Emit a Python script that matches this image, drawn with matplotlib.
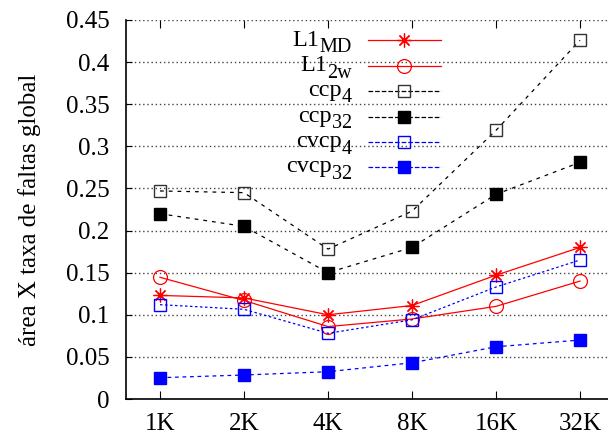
import matplotlib
matplotlib.use("Agg")
import matplotlib.pyplot as plt
from matplotlib.lines import Line2D

plt.rcParams['font.family'] = ['Liberation Serif', 'DejaVu Serif']

sizes = ['1K', '2K', '4K', '8K', '16K', '32K']
l1_md = [0.123, 0.120, 0.100, 0.111, 0.147, 0.180]
l1_2w = [0.1445, 0.117, 0.086, 0.095, 0.110, 0.140]
ccp4 = [0.247, 0.245, 0.178, 0.223, 0.319, 0.426]
ccp32 = [0.220, 0.205, 0.150, 0.180, 0.243, 0.281]
cvcp4 = [0.112, 0.1065, 0.078, 0.094, 0.133, 0.165]
cvcp32 = [0.0253, 0.0285, 0.0324, 0.043, 0.062, 0.070]
names = ['L1', 'L1', 'ccp', 'ccp', 'cvcp', 'cvcp']
subs = ['MD', '2w', '4', '32', '4', '32']
yticks = [0, 0.05, 0.1, 0.15, 0.2, 0.25, 0.3, 0.35, 0.4, 0.45]
ytick_labels = ['0', '0.05', '0.1', '0.15', '0.2', '0.25', '0.3', '0.35', '0.4', '0.45']

W, H = 608, 437
fig = plt.figure(figsize=(W / 100, H / 100), dpi=100)
ax = fig.add_axes([126 / W, 1 - 399 / H, 1 - 126 / W, (399 - 20) / H])

x = list(range(len(sizes)))
lw = 0.9
ax.plot(x, l1_md, color='red', lw=lw, marker=(8, 2, 0), ms=10, mew=0.9)
ax.plot(x, l1_2w, color='red', lw=lw, marker='o', ms=10, mfc='none', mew=0.9)
ax.plot(x, ccp4, color='black', lw=lw, ls=(0, (3, 4)), marker='s', ms=9,
        mfc='none', mec='#333333', mew=1.0)
ax.plot(x, ccp32, color='black', lw=lw, ls=(0, (3, 4)), marker='s', ms=9)
ax.plot(x, cvcp4, color='blue', lw=lw, ls=(0, (2, 2)), marker='s', ms=9,
        mfc='none', mew=1.0)
ax.plot(x, cvcp32, color='blue', lw=lw, ls=(0, (3, 3)), marker='s', ms=9)

ax.set_xlim(-0.405, 5.333)
ax.set_ylim(0, 0.45)
ax.set_xticks(x)
ax.set_xticklabels(sizes, fontsize=18)
ax.set_yticks(yticks)
ax.set_yticklabels(ytick_labels, fontsize=18)
ax.tick_params(axis='x', direction='in', length=6, top=True, pad=10)
ax.tick_params(axis='y', direction='in', length=4, pad=12)
ax.yaxis.grid(True, ls=(0, (1, 2)), color='#444444', lw=1.0)
ax.set_axisbelow(True)
for side in ['top', 'right']:
    ax.spines[side].set_visible(False)
for side in ['left', 'bottom']:
    ax.spines[side].set_linewidth(1.2)

ax.set_ylabel('área X taxa de faltas global', fontsize=18)
ax.yaxis.set_label_coords(-85 / 482, 0.5)

# legend drawn by hand: right-aligned labels with gnuplot-style subscripts
renderer = fig.canvas.get_renderer()
row_y = [40, 65.5, 90.5, 116.5, 142, 166.5]
for line, name, sub, ry in zip(ax.get_lines(), names, subs, row_y):
    fy = 1 - ry / H
    st = fig.text(352 / W, 1 - (ry + 12) / H, sub, ha='right', va='baseline',
                  fontsize=14.5)
    x0 = st.get_window_extent(renderer).x0
    fig.text(x0 / W, 1 - (ry + 5.5) / H, name, ha='right', va='baseline',
             fontsize=17.5)
    fig.add_artist(Line2D([368 / W, 441 / W], [fy, fy], transform=fig.transFigure,
                          color=line.get_color(), lw=line.get_linewidth(),
                          ls=line.get_linestyle()))
    fig.add_artist(Line2D([404 / W], [fy], transform=fig.transFigure, ls='none',
                          marker=line.get_marker(), ms=line.get_markersize(),
                          mfc=line.get_markerfacecolor(), mec=line.get_markeredgecolor(),
                          mew=line.get_markeredgewidth()))

fig.savefig('out.png', dpi=100)
